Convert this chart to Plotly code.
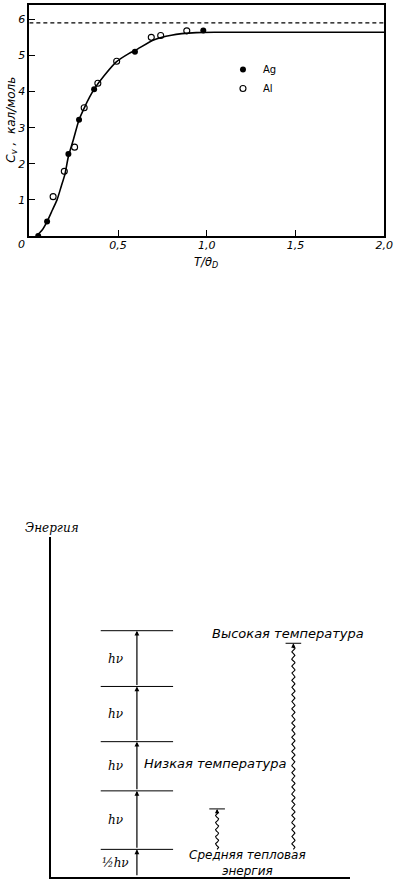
import numpy as np
import plotly.graph_objects as go

# ---------------- Data: heat capacity vs reduced temperature ----------------
ag_x = [0.05, 0.10, 0.22, 0.28, 0.365, 0.595, 0.98]
ag_y = [0.0, 0.40, 2.27, 3.22, 4.06, 5.10, 5.69]

al_x = [0.134, 0.197, 0.255, 0.309, 0.386, 0.492, 0.687, 0.74, 0.887]
al_y = [1.09, 1.79, 2.46, 3.55, 4.23, 4.84, 5.50, 5.55, 5.68]

curve_x = [0.04, 0.07, 0.10, 0.13, 0.156, 0.18, 0.20, 0.22, 0.25, 0.28, 0.31,
           0.34, 0.37, 0.42, 0.49, 0.56, 0.60, 0.70, 0.80, 0.94, 1.05, 1.3, 1.6, 2.0]
curve_y = [0.0, 0.15, 0.40, 0.72, 1.0, 1.38, 1.70, 2.20, 2.70, 3.22, 3.55,
           3.85, 4.10, 4.43, 4.82, 5.05, 5.15, 5.43, 5.56, 5.63, 5.64, 5.64, 5.64, 5.64]

dulong_petit = 5.9
x_ticks = [0.5, 1.0, 1.5, 2.0]
x_tick_labels = ["0,5", "1,0", "1,5", "2,0"]
y_ticks = [1, 2, 3, 4, 5, 6]
y_tick_labels = ["1", "2", "3", "4", "5", "6"]

# ---------------- Data: energy level diagram (units of hν) ----------------
levels = [0.5, 1.57, 2.47, 3.48, 4.5]
level_labels = ["½hν", "hν", "hν", "hν", "hν"]
thermal_base = 0.5
low_T_energy = 1.24
high_T_energy = 4.27

W, H = 408, 886
ITALIC = dict(family="DejaVu Sans", style="italic", color="black")


def px(x):
    return x / W


def py(y):
    return 1 - y / H


fig = go.Figure()

# ---- top chart ----
fig.add_trace(go.Scatter(x=curve_x, y=curve_y, mode="lines",
                         line=dict(color="black", width=1.6, shape="spline", smoothing=0.6),
                         showlegend=False, hoverinfo="skip", xaxis="x", yaxis="y"))
fig.add_trace(go.Scatter(x=[0, 2], y=[dulong_petit, dulong_petit], mode="lines",
                         line=dict(color="black", width=1.1, dash="4px,3px"),
                         showlegend=False, hoverinfo="skip", xaxis="x", yaxis="y"))
fig.add_trace(go.Scatter(x=ag_x, y=ag_y, mode="markers", name="Ag",
                         marker=dict(symbol="circle", size=6, color="black"),
                         xaxis="x", yaxis="y"))
fig.add_trace(go.Scatter(x=al_x, y=al_y, mode="markers", name="Al",
                         marker=dict(symbol="circle-open", size=6, color="black",
                                     line=dict(width=1.1)),
                         xaxis="x", yaxis="y"))

# ---- bottom diagram ----
ARROW_X = 88
LEVEL_X0, LEVEL_X1 = 51, 125
LABEL_X = 66
HIGH_X, LOW_X = 248, 170

shapes = []
for e in levels:
    shapes.append(dict(type="line", xref="x2", yref="y2", x0=LEVEL_X0, x1=LEVEL_X1,
                       y0=e, y1=e, line=dict(color="black", width=1)))

annotations = []
prev = 0.0
for e in levels:
    annotations.append(dict(xref="x2", yref="y2", axref="x2", ayref="y2",
                            x=ARROW_X, y=e, ax=ARROW_X, ay=prev, text="",
                            showarrow=True, arrowhead=2, arrowsize=0.8,
                            arrowwidth=1.2, arrowcolor="black", standoff=0))
    prev = e

bounds = [0.0] + levels
for lab, lo, hi in zip(level_labels, bounds[:-1], bounds[1:]):
    annotations.append(dict(xref="x2", yref="y2", x=LABEL_X, y=(lo + hi) / 2,
                            xanchor="center", yanchor="middle",
                            text=lab, showarrow=False,
                            font=dict(ITALIC, family="DejaVu Serif", size=12)))


def wavy(x0, e0, e1, amp=1.6, wl=0.13):
    e = np.linspace(e0, e1 - 0.06, 300)
    return x0 + amp * np.sin(2 * np.pi * (e - e0) / wl), e


for xc, top in [(HIGH_X, high_T_energy), (LOW_X, low_T_energy)]:
    wx, wy = wavy(xc, thermal_base, top)
    fig.add_trace(go.Scatter(x=wx, y=wy, mode="lines",
                             line=dict(color="black", width=1.1),
                             showlegend=False, hoverinfo="skip", xaxis="x2", yaxis="y2"))
    annotations.append(dict(xref="x2", yref="y2", axref="x2", ayref="y2",
                            x=xc, y=top, ax=xc, ay=top - 0.12, text="",
                            showarrow=True, arrowhead=2, arrowsize=0.8,
                            arrowwidth=1.1, arrowcolor="black", standoff=0))
    shapes.append(dict(type="line", xref="x2", yref="y2", x0=xc - 8, x1=xc + 8,
                       y0=top, y1=top, line=dict(color="black", width=1)))

txt_font = dict(ITALIC, size=13)
C = dict(xanchor="center", yanchor="middle", showarrow=False)
annotations += [
    dict(C, xref="paper", yref="paper", x=px(53), y=py(528), text="Энергия",
         font=dict(ITALIC, family="DejaVu Serif", size=12)),
    dict(C, xref="paper", yref="paper", x=px(295), y=py(633), text="Высокая температура",
         font=txt_font),
    dict(C, xref="paper", yref="paper", x=px(220), y=py(763), text="Низкая температура",
         font=txt_font),
    dict(C, xref="paper", yref="paper", x=px(253), y=py(862.5),
         text="Средняя тепловая<br>энергия", font=dict(ITALIC, size=12)),
    # axis texts of the top chart
    dict(C, xref="paper", yref="paper", x=px(22), y=py(244), text="0",
         font=dict(ITALIC, size=11)),
    dict(C, xref="paper", yref="paper", x=px(211), y=py(262), text="T/θ<sub>D</sub>",
         font=dict(ITALIC, size=11.5)),
    dict(C, xref="paper", yref="paper", x=px(12), y=py(120), textangle=-90,
         text="C<sub>v</sub> ,  кал/моль", font=dict(ITALIC, size=12)),
]

fig.update_layout(
    width=W, height=H,
    margin=dict(l=0, r=0, t=0, b=0),
    paper_bgcolor="white", plot_bgcolor="white",
    showlegend=True,
    legend=dict(x=px(228), y=py(55), xanchor="left", yanchor="top",
                bgcolor="rgba(0,0,0,0)", font=dict(family="DejaVu Sans", size=10, color="black")),
    xaxis=dict(domain=[px(30), px(393)], range=[0, 2], anchor="y",
               tickvals=x_ticks, ticktext=x_tick_labels, ticks="inside", ticklen=6,
               tickcolor="black", showline=True, linewidth=2, linecolor="black",
               mirror=True, showgrid=False, zeroline=False, ticklabelstandoff=-2,
               tickfont=dict(ITALIC, size=11)),
    yaxis=dict(domain=[py(236), py(4.5)], range=[0, 6.41], anchor="x",
               tickvals=y_ticks, ticktext=y_tick_labels, ticks="inside", ticklen=6,
               tickcolor="black", showline=True, linewidth=2, linecolor="black",
               mirror=True, showgrid=False, zeroline=False,
               tickfont=dict(ITALIC, size=11)),
    xaxis2=dict(domain=[px(52), px(358)], range=[0, 306], anchor="y2",
                showline=True, linewidth=2, linecolor="black", showticklabels=False,
                ticks="", showgrid=False, zeroline=False),
    yaxis2=dict(domain=[py(876.7), py(537)], range=[0, 6.214], anchor="x2",
                showline=True, linewidth=2, linecolor="black", showticklabels=False,
                ticks="", showgrid=False, zeroline=False),
    shapes=shapes,
    annotations=annotations,
)

fig.write_html("out.html", config={"displayModeBar": False},
               post_script="document.body.style.margin='0px';")
